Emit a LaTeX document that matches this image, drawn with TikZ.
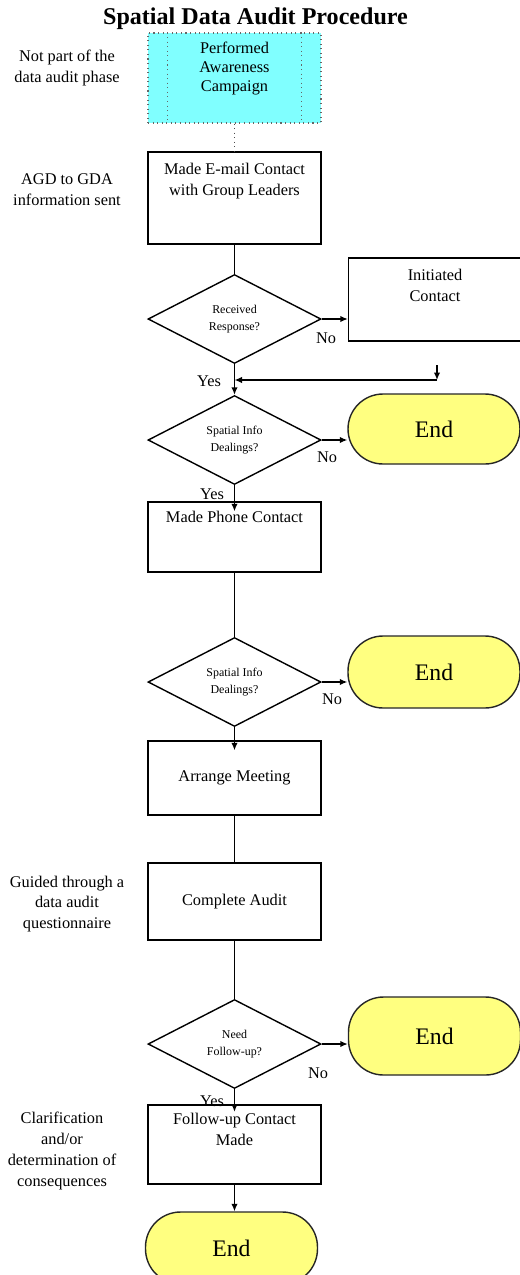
\documentclass[tikz,border=0pt]{standalone}
\usepackage{fontspec}
\setmainfont{Liberation Serif}
\usetikzlibrary{arrows.meta,positioning,shapes.geometric}
\definecolor{awarecyan}{RGB}{128,255,255}
\definecolor{endyellow}{RGB}{255,255,128}

\begin{document}
\begin{tikzpicture}[x=0.02cm, y=-0.02cm, line width=0.8pt, >={Latex[length=1.5mm,width=1.3mm]}, every node/.style={font=\fontsize{9.3}{11.8}\selectfont, align=center}, proc/.style={draw, minimum width=3.46cm, inner sep=0pt}, intxt/.style={anchor=north, inner sep=0pt, yshift=-0.22cm}, dec/.style={draw, diamond, minimum width=3.46cm, minimum height=1.78cm, inner sep=0pt, font=\fontsize{6.8}{10}\selectfont}, stop/.style={draw=black!85, fill=endyellow, rounded corners=0.7cm, minimum width=3.44cm, inner sep=0pt, font=\fontsize{13.5}{16}\selectfont}, lbl/.style={inner sep=0pt}]
	\useasboundingbox (0,0) rectangle (520,1275);
	\clip (0,0) rectangle (520,1275);
	\node[font=\bfseries\fontsize{13.7}{16}\selectfont] (title) at (255.5,19) {Spatial Data Audit Procedure};
	% main column
	\node[proc, fill=awarecyan, draw=black!60, dotted, line width=0.6pt, minimum height=1.8cm, label={[intxt, yshift=0.04cm, font=\fontsize{9.3}{10.8}\selectfont]north:{Performed\\Awareness\\Campaign}}] (aware) at (234.5,78) {};
	\draw[black!60, dotted, line width=0.6pt] ([xshift=0.4cm]aware.north west) -- ([xshift=0.4cm]aware.south west);
	\draw[black!60, dotted, line width=0.6pt] ([xshift=-0.4cm]aware.north east) -- ([xshift=-0.4cm]aware.south east);
	\node[proc, minimum height=1.84cm, label={[intxt]north:{Made E-mail Contact\\with Group Leaders}}] (email) at (234.5,198) {};
	\node[dec] (q1) at (234.5,319) {Received\\Response?};
	\node[proc, minimum height=1.66cm, label={[intxt]north:{Initiated\\Contact}}] (init) at (435,299.5) {};
	\node[dec] (q2) at (234.5,440) {Spatial Info\\Dealings?};
	\node[stop, minimum height=1.4cm] (end1) at (434,429) {End};
	\node[proc, minimum height=1.4cm, label={[intxt, yshift=0.04cm]north:{Made Phone Contact}}] (phone) at (234.5,537) {};
	\node[dec] (q3) at (234.5,682) {Spatial Info\\Dealings?};
	\node[stop, minimum height=1.44cm] (end2) at (434,672) {End};
	\node[proc, minimum height=1.48cm] (meet) at (234.5,778) {Arrange Meeting};
	\node[proc, minimum height=1.54cm] (audit) at (234.5,901.5) {Complete Audit};
	\node[dec] (q4) at (234.5,1044) {Need\\Follow-up?};
	\node[stop, minimum height=1.56cm] (end3) at (434.5,1036) {End};
	\node[proc, minimum height=1.58cm, label={[intxt, yshift=0.06cm]north:{Follow-up Contact\\Made}}] (follow) at (234.5,1144.5) {};
	\node[stop, minimum height=1.44cm] (end4) at (231.5,1248) {End};
	% notes on the left
	\node (n1) at (67,68) {Not part of the\\data audit phase};
	\node (n2) at (67,190) {AGD to GDA\\information sent};
	\node (n3) at (67,904) {Guided through a\\data audit\\questionnaire};
	\node (n4) at (62,1151) {Clarification\\and/or\\determination of\\consequences};
	% yes / no
	\node[lbl] (no1) at (326,338) {No};
	\node[lbl] (no2) at (327,457) {No};
	\node[lbl] (no3) at (332,699) {No};
	\node[lbl] (no4) at (318,1073) {No};
	\node[lbl] (yes1) at (209,381) {Yes};
	\node[lbl] (yes2) at (212,494) {Yes};
	\node[lbl] (yes4) at (212,1101) {Yes};
	\coordinate (rtop) at (437,365);
	\coordinate (rbot) at (437,380);
	\coordinate (merge) at (234.5,380);
	% connectors
	\draw[black!70, dotted, line width=0.6pt] (aware) -- (email);
	\draw (email) -- (q1);
	\draw[->] (q1.east) -- (q1.east -| init.west);
	\draw[->] (rtop) -- (rbot);
	\draw[->] (rbot) -- (merge);
	\draw[->] (q1) -- (q2);
	\draw[->] (q2.east) -- (q2.east -| end1.west);
	\draw[->, shorten >=-0.2cm] (q2) -- (phone);
	\draw (phone) -- (q3);
	\draw[->] (q3.east) -- (q3.east -| end2.west);
	\draw[->, shorten >=-0.2cm] (q3) -- (meet);
	\draw (meet) -- (audit);
	\draw (audit) -- (q4);
	\draw[->] (q4.east) -- (q4.east -| end3.west);
	\draw[->, shorten >=-0.15cm] (q4) -- (follow);
	\draw[->] (follow) -- (follow.south |- end4.north);
\end{tikzpicture}
\end{document}
